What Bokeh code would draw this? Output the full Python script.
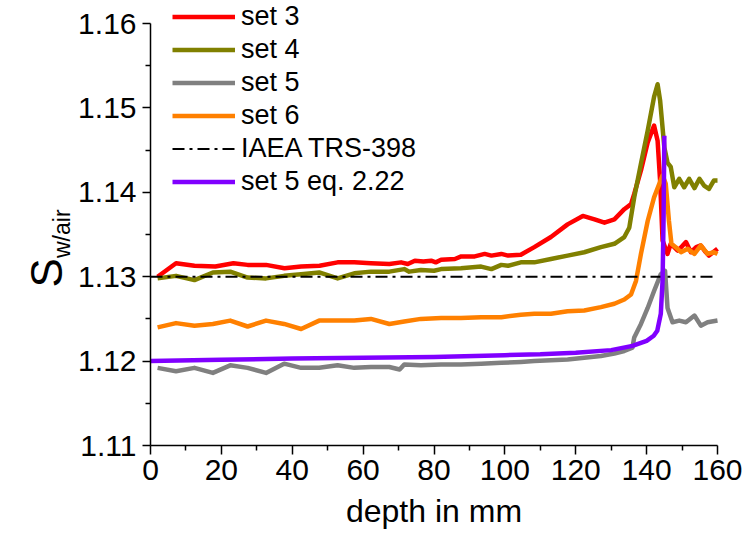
import math
from bokeh.plotting import figure
from bokeh.models import Range1d, FixedTicker, PrintfTickFormatter, Legend, LegendItem, Label
from bokeh.embed import file_html
from bokeh.resources import INLINE

# ---------------- data ----------------
set3_depth = [2, 7.2, 12.4, 18.3, 23.4, 27.4, 32.6, 37.8, 42.5, 47.7, 52.8, 57.5, 62.2, 67.4, 70.7,
              72.6, 74.6, 77, 79.2, 80.5, 82, 85.9, 87.7, 91.5, 94.3, 96.2, 99, 100.9, 104.5, 108.3,
              113, 117.7, 122, 125.3, 128.1, 130.9, 133.7, 135.6, 136.5, 138.4, 140.3, 142.1, 143.1,
              143.8, 144.5, 145.9, 146.8, 148.7, 150, 151.1, 152.5, 154, 155.3, 156.5, 157.6, 160]
set3_s = [1.1300, 1.1316, 1.1313, 1.1312, 1.1316, 1.1314, 1.1314, 1.1310, 1.1312, 1.1313, 1.1317,
          1.1317, 1.1316, 1.1315, 1.1317, 1.1315, 1.1319, 1.1318, 1.1319, 1.1317, 1.1320, 1.1321,
          1.1324, 1.1324, 1.1327, 1.1325, 1.1327, 1.1325, 1.1326, 1.1335, 1.1347, 1.1362, 1.1372,
          1.1368, 1.1364, 1.1368, 1.1380, 1.1386, 1.1398, 1.1426, 1.1459, 1.1479, 1.1461, 1.1414,
          1.1343, 1.1327, 1.1339, 1.1331, 1.1336, 1.1341, 1.1329, 1.1335, 1.1337, 1.1330, 1.1325,
          1.1333]

set4_depth = [2, 7.2, 12.4, 17.6, 22.5, 27.4, 32.6, 37.7, 42.5, 47.6, 52.8, 57.5, 62.2, 67.4, 71.6,
              73, 76.3, 80, 82, 87.6, 93.3, 96.2, 99, 100.9, 104.5, 108.3, 113, 117.7, 122.4, 127.1,
              130.9, 133.7, 135.1, 136.5, 138.4, 140.3, 142.1, 143.1, 143.8, 145, 145.9, 146.8,
              147.8, 149.2, 150.6, 152, 153.5, 154.9, 156.2, 157.6, 159, 160]
set4_s = [1.1298, 1.1301, 1.1296, 1.1305, 1.1306, 1.1299, 1.1298, 1.1301, 1.1303, 1.1305, 1.1298,
          1.1304, 1.1306, 1.1306, 1.1309, 1.1306, 1.1308, 1.1307, 1.1309, 1.1310, 1.1312, 1.1309,
          1.1314, 1.1313, 1.1317, 1.1317, 1.1321, 1.1325, 1.1329, 1.1335, 1.1339, 1.1347, 1.1358,
          1.1394, 1.1434, 1.1473, 1.1513, 1.1528, 1.1509, 1.1453, 1.1435, 1.1430, 1.1406, 1.1416,
          1.1406, 1.1416, 1.1405, 1.1416, 1.1408, 1.1404, 1.1414, 1.1414]

set5_depth = [2, 7.2, 12.4, 17.6, 22.5, 27.4, 32.6, 37.7, 42.5, 47.6, 52.8, 57.5, 62.2, 67.4, 70.3,
              71.6, 76.3, 82, 87.6, 93.3, 99, 104.5, 108.3, 113, 117.7, 122.4, 127.1, 130.9, 133.7,
              136, 136.5, 138.4, 140.3, 142.1, 144, 145.2, 145.9, 147.3, 149.2, 151.1, 153.5, 155.3,
              157.2, 160]
set5_s = [1.1192, 1.1188, 1.1192, 1.1186, 1.1195, 1.1192, 1.1186, 1.1197, 1.1192, 1.1192, 1.1195,
          1.1192, 1.1193, 1.1193, 1.1190, 1.1196, 1.1195, 1.1196, 1.1196, 1.1197, 1.1198, 1.1199,
          1.1200, 1.1201, 1.1202, 1.1204, 1.1206, 1.1209, 1.1212, 1.1216, 1.1228, 1.1244, 1.1263,
          1.1283, 1.1303, 1.1307, 1.1263, 1.1246, 1.1248, 1.1246, 1.1254, 1.1242, 1.1246, 1.1248]

set6_depth = [2, 7.2, 12.4, 17.6, 22.5, 27.4, 32.6, 37.7, 42.5, 47.6, 52.8, 57.5, 62.2, 67.4, 71.6,
              76.3, 82, 87.6, 93.3, 99, 104.5, 108.3, 113, 117.7, 122.4, 127.1, 130.9, 133.7, 135.6,
              137, 138.4, 140.3, 142.1, 144.5, 145.4, 146.3, 147, 148.2, 149.7, 151.6, 153.5, 155.3,
              157.2, 159, 160]
set6_s = [1.1240, 1.1245, 1.1242, 1.1244, 1.1248, 1.1241, 1.1248, 1.1244, 1.1238, 1.1248, 1.1248,
          1.1248, 1.1250, 1.1244, 1.1247, 1.1250, 1.1251, 1.1251, 1.1252, 1.1252, 1.1255, 1.1256,
          1.1256, 1.1259, 1.1260, 1.1264, 1.1268, 1.1273, 1.1279, 1.1295, 1.1327, 1.1366, 1.1394,
          1.1420, 1.1410, 1.1366, 1.1339, 1.1335, 1.1329, 1.1333, 1.1327, 1.1337, 1.1327, 1.1329,
          1.1327]

iaea_depth = [0, 160]
iaea_s = [1.13, 1.13]

eq_depth = [0, 20, 40, 60, 80, 100, 110, 120, 130, 136, 140, 142, 143, 144, 144.5, 144.8, 145]
eq_s = [1.1200, 1.12015, 1.1203, 1.1204, 1.1205, 1.1207, 1.1208, 1.1210, 1.1213, 1.1218, 1.1224,
        1.1230, 1.1236, 1.1256, 1.1295, 1.1374, 1.1467]

x_ticks = [0, 20, 40, 60, 80, 100, 120, 140, 160]
x_minor = [10, 30, 50, 70, 90, 110, 130, 150]
y_ticks = [1.11, 1.12, 1.13, 1.14, 1.15, 1.16]
y_minor = [1.115, 1.125, 1.135, 1.145, 1.155]

FONT = "Liberation Sans"
W, H = 745, 534
# pixel layout of the plotting box inside the page
PX_LEFT, PX_RIGHT, PX_TOP, PX_BOTTOM = 150, 717, 23, 445
xs = (PX_RIGHT - PX_LEFT) / (x_ticks[-1] - x_ticks[0])
ys = (PX_BOTTOM - PX_TOP) / (y_ticks[-1] - y_ticks[0])
x_rng = Range1d(x_ticks[0] - PX_LEFT / xs, x_ticks[-1] + (W - PX_RIGHT) / xs)
y_rng = Range1d(y_ticks[0] - (H - PX_BOTTOM) / ys, y_ticks[-1] + PX_TOP / ys)

p = figure(width=W, height=H, output_backend="svg", toolbar_location=None,
           x_range=x_rng, y_range=y_rng,
           min_border_left=0, min_border_right=0, min_border_top=0, min_border_bottom=0)
p.outline_line_color = None
p.xgrid.visible = False
p.ygrid.visible = False
p.background_fill_color = "white"
p.border_fill_color = "white"

p.xaxis.fixed_location = y_ticks[0]
p.yaxis.fixed_location = x_ticks[0]
p.xaxis.bounds = (x_ticks[0], x_ticks[-1])
p.yaxis.bounds = (y_ticks[0], y_ticks[-1])

p.xaxis.ticker = FixedTicker(ticks=x_ticks, minor_ticks=x_minor)
p.yaxis.ticker = FixedTicker(ticks=y_ticks, minor_ticks=y_minor)
p.yaxis.formatter = PrintfTickFormatter(format="%.2f")

for ax in (p.xaxis[0], p.yaxis[0]):
    ax.axis_line_color = "black"
    ax.axis_line_width = 1.5
    ax.major_tick_line_color = "black"
    ax.minor_tick_line_color = "black"
    ax.major_tick_line_width = 1.5
    ax.minor_tick_line_width = 1.5
    ax.major_tick_in = 0
    ax.minor_tick_in = 0
    ax.major_label_text_font = FONT
    ax.major_label_text_font_size = "30px"
    ax.major_label_text_color = "black"

p.xaxis.major_tick_out = 9
p.xaxis.minor_tick_out = 5
p.yaxis.major_tick_out = 8
p.yaxis.minor_tick_out = 5
p.xaxis.major_label_standoff = 5
p.yaxis.major_label_standoff = 6

p.xaxis.axis_label = "depth in mm"
p.xaxis.axis_label_text_font = FONT
p.xaxis.axis_label_text_font_size = "32px"
p.xaxis.axis_label_text_font_style = "normal"
p.xaxis.axis_label_text_color = "black"
p.xaxis.axis_label_standoff = 10

# y-axis label: S with subscript w/air (screen units from the box's bottom-left)
p.add_layout(Label(x=45.5, y=H - 287, x_units="screen", y_units="screen", text="S",
                   angle=math.pi / 2, text_font=FONT, text_font_size="44px",
                   text_align="left", text_baseline="alphabetic", text_color="black"))
p.add_layout(Label(x=61.5, y=H - 257.5, x_units="screen", y_units="screen", text="w/air",
                   angle=math.pi / 2, text_font=FONT, text_font_size="23px",
                   text_align="left", text_baseline="alphabetic", text_color="black"))

LW = 4.5
r3 = p.line(set3_depth, set3_s, line_color="#FF0000", line_width=LW, line_join="round")
r4 = p.line(set4_depth, set4_s, line_color="#808000", line_width=LW, line_join="round")
r5 = p.line(set5_depth, set5_s, line_color="#808080", line_width=LW, line_join="round")
r6 = p.line(set6_depth, set6_s, line_color="#FF8000", line_width=LW, line_join="round")
ri = p.line(iaea_depth, iaea_s, line_color="black", line_width=2, line_dash="12 5 3 5")
re = p.line(eq_depth, eq_s, line_color="#8000FF", line_width=LW, line_join="round")

legend = Legend(items=[
    LegendItem(label="set 3", renderers=[r3]),
    LegendItem(label="set 4", renderers=[r4]),
    LegendItem(label="set 5", renderers=[r5]),
    LegendItem(label="set 6", renderers=[r6]),
    LegendItem(label="IAEA TRS-398", renderers=[ri]),
    LegendItem(label="set 5 eq. 2.22", renderers=[re]),
], location=(172, H - 198))
legend.border_line_color = None
legend.background_fill_alpha = 0
legend.padding = 0
legend.margin = 0
legend.spacing = 0
legend.glyph_width = 63
legend.glyph_height = 33
legend.label_height = 33
legend.label_standoff = 6
legend.label_text_font = FONT
legend.label_text_font_size = "27px"
legend.label_text_color = "black"
p.add_layout(legend, "center")

open("out.html", "w").write(file_html(p, INLINE))
